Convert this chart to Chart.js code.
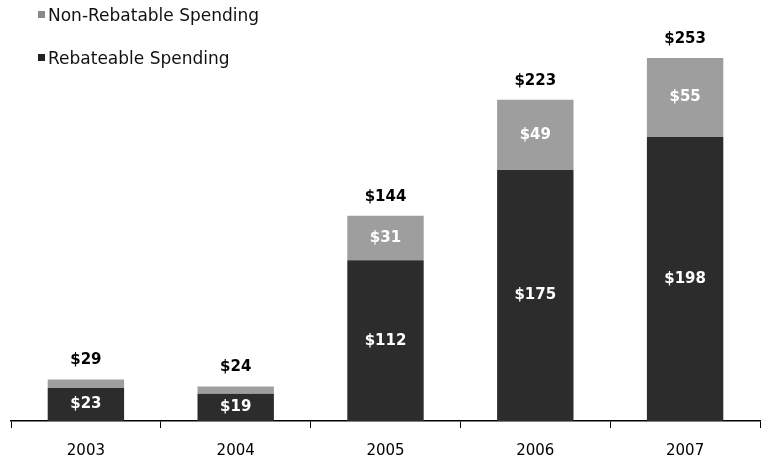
<!DOCTYPE html>
<html>
<head>
<meta charset="utf-8">
<script src="https://cdn.jsdelivr.net/npm/chart.js@4"></script>
<style>
  body { margin: 0; background: #fff; }
  #wrap { position: relative; width: 773px; height: 464px; }
  .legend { position: absolute; left: 38px; font: 17px "DejaVu Sans", sans-serif; color: #111; line-height: 20px; white-space: nowrap; }
  .legend span { display: inline-block; width: 7px; height: 7px; margin-right: 3px; vertical-align: 3px; }
</style>
</head>
<body>
<div id="wrap">
  <canvas id="spendChart" width="773" height="464"></canvas>
  <div class="legend" style="top:5px"><span style="background:#8a8a8a"></span>Non-Rebatable Spending</div>
  <div class="legend" style="top:48px"><span style="background:#222"></span>Rebateable Spending</div>
</div>
<script>
// Chart data
const years = ['2003', '2004', '2005', '2006', '2007'];
const rebateable = [23, 19, 112, 175, 198];
const nonRebatable = [6, 5, 31, 49, 55];
const totals = [29, 24, 144, 223, 253];

// Draws the $ labels inside segments and totals above bars
const valueLabels = {
  id: 'valueLabels',
  afterDatasetsDraw(chart) {
    const ctx = chart.ctx;
    ctx.save();
    ctx.font = 'bold 15px "DejaVu Sans", sans-serif';
    ctx.textAlign = 'center';
    ctx.textBaseline = 'middle';

    chart.data.datasets.forEach((ds, i) => {
      const meta = chart.getDatasetMeta(i);
      meta.data.forEach((bar, j) => {
        if (ds.data[j] < 10) return;
        ctx.fillStyle = '#fff';
        ctx.fillText('$' + ds.data[j], bar.x, (bar.y + bar.base) / 2);
      });
    });

    const top = chart.getDatasetMeta(1);
    top.data.forEach((bar, j) => {
      ctx.fillStyle = '#000';
      ctx.fillText('$' + totals[j], bar.x, bar.y - 19);
    });
    ctx.restore();
  }
};

new Chart(document.getElementById('spendChart'), {
  type: 'bar',
  data: {
    labels: years,
    datasets: [
      { label: 'Rebateable Spending', data: rebateable, backgroundColor: '#2c2c2c' },
      { label: 'Non-Rebatable Spending', data: nonRebatable, backgroundColor: '#9e9e9e' }
    ]
  },
  options: {
    responsive: false,
    animation: false,
    layout: { padding: { left: 11, right: 13, top: 20, bottom: 0 } },
    datasets: { bar: { barPercentage: 0.51, categoryPercentage: 1 } },
    plugins: { legend: { display: false }, tooltip: { enabled: false } },
    scales: {
      x: {
        stacked: true,
        afterFit(scale) { scale.height = 43; },
        grid: { offset: true, drawOnChartArea: false, color: '#000', tickLength: 7 },
        border: { color: '#000', width: 1.5 },
        ticks: { color: '#000', padding: 14, font: { size: 15, family: '"DejaVu Sans", sans-serif' } }
      },
      y: { stacked: true, display: false, min: 0, max: 279.5 }
    }
  },
  plugins: [valueLabels]
});
</script>
</body>
</html>
